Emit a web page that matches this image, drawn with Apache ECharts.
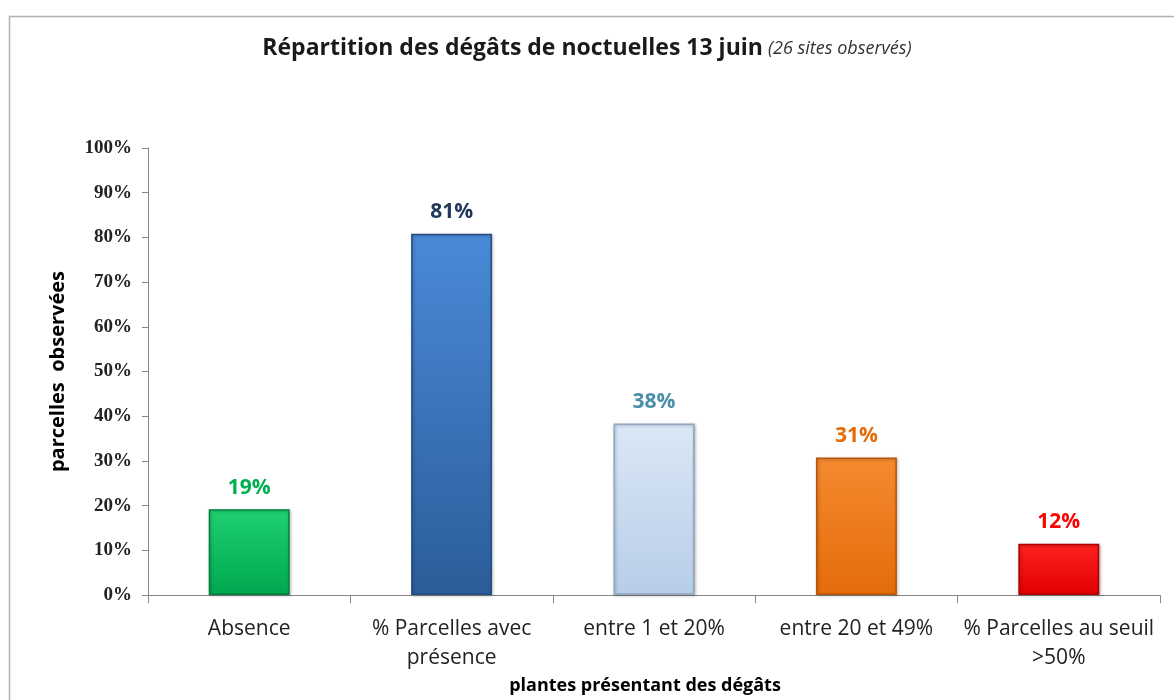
<!DOCTYPE html>
<html lang="fr">
<head>
<meta charset="UTF-8">
<title>Noctuelles</title>
<script src="https://cdn.jsdelivr.net/npm/echarts@6/dist/echarts.min.js"></script>
</head>
<body style="margin:0; background:#ffffff;">
<div id="main" style="width:1174px; height:700px;"></div>
<script type="text/javascript">
var categories = ['Absence', '% Parcelles avec\nprésence', 'entre 1 et 20%', 'entre 20 et 49%', '% Parcelles au seuil\n>50%'];
var values = [19.2, 80.8, 38.4, 30.8, 11.5];
var barTop = ['#1fd070', '#4a8ad8', '#dbe7f6', '#f58a30', '#ff2020'];
var barBottom = ['#00a850', '#2c5d9a', '#b7cde8', '#e46c0a', '#e00000'];
var barEdge = ['#00803c', '#24507f', '#8ea6c2', '#b85508', '#b00000'];
var labelColors = ['#00b050', '#23395b', '#4a8fa8', '#e46c0a', '#ff0000'];

var chart = echarts.init(document.getElementById('main'));

var barData = values.map(function (v, i) {
    return {
        value: v,
        itemStyle: {
            color: new echarts.graphic.LinearGradient(0, 0, 0, 1, [
                {offset: 0, color: barTop[i]},
                {offset: 1, color: barBottom[i]}
            ]),
            borderColor: barEdge[i],
            borderWidth: 1.5,
            shadowColor: 'rgba(0,0,0,0.25)',
            shadowBlur: 3,
            shadowOffsetX: 1,
            shadowOffsetY: 1
        },
        label: {color: labelColors[i]}
    };
});

var option = {
    backgroundColor: '#ffffff',
    title: {
        text: '{b|Répartition des dégâts de noctuelles 13 juin} {i|(26 sites observés)}',
        left: 'center',
        top: 32,
        textStyle: {
            rich: {
                b: {fontFamily: 'Open Sans', fontSize: 23, fontWeight: 'bold', color: '#1a1a1a'},
                i: {fontFamily: 'Open Sans', fontSize: 18, fontStyle: 'italic', fontWeight: 'normal', color: '#333333'}
            }
        }
    },
    graphic: [{
        type: 'rect',
        shape: {x: 9.5, y: 16.5, width: 1300, height: 800},
        style: {fill: 'none', stroke: '#b0b0b0', lineWidth: 1.5},
        silent: true
    }],
    grid: {left: 148, right: 14, top: 148, bottom: 102},
    xAxis: {
        type: 'category',
        data: categories,
        name: 'plantes présentant des dégâts',
        nameLocation: 'middle',
        nameGap: 81,
        nameTextStyle: {fontFamily: 'Open Sans', fontSize: 18, fontWeight: 'bold', color: '#000', padding: [0, 18, 0, 0]},
        axisLine: {lineStyle: {color: '#868686', width: 1}},
        axisTick: {show: true, alignWithLabel: false, length: 8, lineStyle: {color: '#868686'}},
        axisLabel: {fontFamily: 'Open Sans', fontSize: 21, color: '#222', margin: 19, lineHeight: 29, interval: 0}
    },
    yAxis: {
        type: 'value',
        min: 0,
        max: 100,
        interval: 10,
        name: 'parcelles  observées',
        nameLocation: 'middle',
        nameGap: 80,
        nameTextStyle: {fontFamily: 'Open Sans', fontSize: 20, fontWeight: 'bold', color: '#000'},
        splitLine: {show: false},
        axisLine: {show: true, lineStyle: {color: '#868686', width: 1}},
        axisTick: {show: true, length: 6, lineStyle: {color: '#868686'}},
        axisLabel: {
            fontFamily: 'Liberation Serif', fontSize: 19, fontWeight: 'bold', color: '#222', margin: 16,
            formatter: '{value}%'
        }
    },
    series: [{
        type: 'bar',
        data: barData,
        barWidth: '40%',
        label: {
            show: true,
            position: 'top',
            distance: 11,
            fontFamily: 'Open Sans',
            fontSize: 21,
            fontWeight: 'bold',
            formatter: function (p) { return Math.round(p.value) + '%'; }
        }
    }]
};
chart.setOption(option);
</script>
</body>
</html>
